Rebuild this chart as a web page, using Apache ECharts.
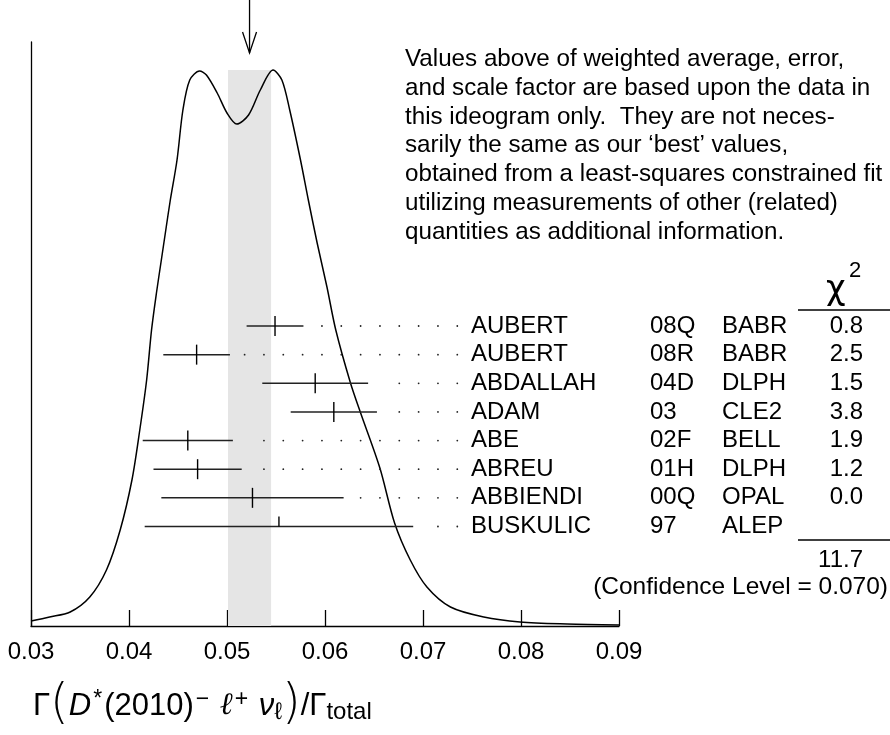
<!DOCTYPE html>
<html>
<head>
<meta charset="UTF-8">
<title>Gamma(D*(2010) l nu)/Gamma total ideogram</title>
<script src="https://cdn.jsdelivr.net/npm/echarts@6/dist/echarts.min.js"></script>
<style>
 html, body { margin: 0; padding: 0; background: #fff; }
 #main { width: 890px; height: 735px; }
</style>
</head>
<body>
<div id="main"></div>
<script>
// measurements, top row first
var names = ['AUBERT', 'AUBERT', 'ABDALLAH', 'ADAM', 'ABE', 'ABREU', 'ABBIENDI', 'BUSKULIC'];
var refs = ['08Q', '08R', '04D', '03', '02F', '01H', '00Q', '97'];
var experiments = ['BABR', 'BABR', 'DLPH', 'CLE2', 'BELL', 'DLPH', 'OPAL', 'ALEP'];
var values = [0.0549, 0.0469, 0.0590, 0.0609, 0.0460, 0.0470, 0.0526, 0.0553];
var errors = [0.0029, 0.0034, 0.0054, 0.0044, 0.0046, 0.0045, 0.0093, 0.0137];
var chi2 = ['0.8', '2.5', '1.5', '3.8', '1.9', '1.2', '0.0', ''];
var chi2Total = '11.7';
var confLevel = '0.070';

// weighted average and its error (grey band + arrow)
var average = 0.0523;
var averageError = 0.0022;
var bandHeight = 556;

// ideogram curve
var curveX = [0.0300, 0.0319, 0.0340, 0.0360, 0.0377, 0.0391, 0.0403, 0.0411, 0.0418, 0.0423,
  0.0428, 0.0433, 0.0438, 0.0442, 0.0449, 0.0455, 0.0462, 0.0472, 0.0479, 0.0490,
  0.0500, 0.0510, 0.0522, 0.0534, 0.0547, 0.0556, 0.0564, 0.0575, 0.0583, 0.0592,
  0.0602, 0.0611, 0.0626, 0.0636, 0.0656, 0.0671, 0.0687, 0.0704, 0.0728, 0.0762,
  0.0799, 0.0847, 0.0900];
var curveY = [5, 9, 14, 29, 56, 96, 146, 196, 246, 296,
  333, 366, 399, 425, 466, 516, 546, 555, 551, 533,
  513, 502, 511, 536, 556, 546, 516, 466, 426, 383,
  339, 296, 243, 214, 158, 103, 66, 39, 19, 9,
  4, 2, 1];

var xMin = 0.03, xMax = 0.09, xStep = 0.01;

var textBlock = [
  'Values above of weighted average, error,',
  'and scale factor are based upon the data in',
  'this ideogram only.  They are not neces-',
  'sarily the same as our \u2018best\u2019 values,',
  'obtained from a least-squares constrained fit',
  'utilizing measurements of other (related)',
  'quantities as additional information.'
];

var FONT = '"Liberation Sans", Arial, Helvetica, sans-serif';
var dotStep = 0.001973, dotEnd = 0.0735, dotGap = 0.0014;

var chart = echarts.init(document.getElementById('main'));

var curveData = curveX.map(function (x, i) { return [x, curveY[i]]; });
var rowData = values.map(function (v, i) { return [v, errors[i], i]; });

function renderRow(params, api) {
  var v = api.value(0), e = api.value(1), r = api.value(2);
  var lo = api.coord([v - e, r]);
  var hi = api.coord([v + e, r]);
  var c = api.coord([v, r]);
  var y = c[1];
  var kids = [
    { type: 'line', shape: { x1: lo[0], y1: y, x2: hi[0], y2: y }, style: { stroke: '#222', lineWidth: 1.5 } },
    { type: 'line', shape: { x1: c[0], y1: y - 10, x2: c[0], y2: chi2[r] === '' ? y : y + 10 }, style: { stroke: '#000', lineWidth: 1.4 } }
  ];
  for (var k = 0; k < 40; k++) {
    var d = dotEnd - k * dotStep;
    if (d <= v + e + dotGap) break;
    var p = api.coord([d, r]);
    kids.push({ type: 'circle', shape: { cx: p[0], cy: y, r: 0.9 }, style: { fill: '#222' } });
  }
  var ts = { font: '24px ' + FONT, fill: '#000', verticalAlign: 'middle', align: 'left' };
  kids.push({ type: 'text', x: 471, y: y, style: Object.assign({ text: names[r] }, ts) });
  kids.push({ type: 'text', x: 650, y: y, style: Object.assign({ text: refs[r] }, ts) });
  kids.push({ type: 'text', x: 722, y: y, style: Object.assign({ text: experiments[r] }, ts) });
  kids.push({ type: 'text', x: 863, y: y, style: Object.assign({ text: chi2[r] }, ts, { align: 'right' }) });
  return { type: 'group', children: kids };
}

function renderArrow(params, api) {
  var x = api.coord([api.value(0), 0])[0];
  return {
    type: 'group',
    children: [
      { type: 'line', shape: { x1: x, y1: 0, x2: x, y2: 53 }, style: { stroke: '#000', lineWidth: 1.3 } },
      { type: 'polyline', shape: { points: [[x - 7, 32], [x, 53], [x + 7, 32]] }, style: { stroke: '#000', lineWidth: 1.3, fill: null } }
    ]
  };
}

var option = {
  animation: false,
  grid: { left: 31, right: 271, top: 42, bottom: 109 },
  xAxis: {
    type: 'value', min: xMin, max: xMax, interval: xStep,
    axisLine: { lineStyle: { color: '#000', width: 1.3 } },
    axisTick: { inside: true, length: 16, lineStyle: { color: '#000', width: 1.3 } },
    splitLine: { show: false },
    axisLabel: {
      color: '#000', fontSize: 24, fontFamily: FONT, margin: 14,
      formatter: function (v) { return v.toFixed(2); }
    }
  },
  yAxis: [
    {
      type: 'value', min: 0, max: 584,
      axisLine: { show: true, lineStyle: { color: '#000', width: 1.3 } },
      axisTick: { show: false }, axisLabel: { show: false }, splitLine: { show: false }
    },
    {
      type: 'value', min: -9.916, max: 10.475, inverse: true, show: false
    }
  ],
  series: [
    {
      type: 'line', z: 1, data: [], silent: true,
      markArea: {
        silent: true,
        itemStyle: { color: '#e5e5e5' },
        data: [[{ xAxis: average - averageError, yAxis: 0 }, { xAxis: average + averageError, yAxis: bandHeight }]]
      }
    },
    {
      type: 'line', z: 3, data: curveData, smooth: 0.3, showSymbol: false, silent: true,
      lineStyle: { color: '#000', width: 1.5 }
    },
    {
      type: 'custom', z: 4, xAxisIndex: 0, yAxisIndex: 1, silent: true,
      data: rowData, renderItem: renderRow
    },
    {
      type: 'custom', z: 4, silent: true,
      data: [[average]], renderItem: renderArrow
    }
  ],
  graphic: [
    {
      type: 'text', left: 405, top: 45,
      style: { text: textBlock.join('\n'), font: '24.2px ' + FONT, lineHeight: 28.8, fill: '#000' }
    },
    {
      type: 'text', x: 826, y: 290,
      style: { text: '\u03c7', font: '34px "DejaVu Sans", sans-serif', fill: '#000', verticalAlign: 'middle' }
    },
    {
      type: 'text', x: 849, y: 271,
      style: { text: '2', font: '22px ' + FONT, fill: '#000', verticalAlign: 'middle' }
    },
    { type: 'line', shape: { x1: 798, y1: 310, x2: 890, y2: 310 }, style: { stroke: '#000', lineWidth: 1.3 } },
    { type: 'line', shape: { x1: 798, y1: 540, x2: 890, y2: 540 }, style: { stroke: '#000', lineWidth: 1.3 } },
    {
      type: 'text', x: 863, y: 560,
      style: { text: chi2Total, font: '24px ' + FONT, fill: '#000', align: 'right', verticalAlign: 'middle' }
    },
    {
      type: 'text', x: 888, y: 587,
      style: { text: '(Confidence Level = ' + confLevel + ')', font: '24.5px ' + FONT, fill: '#000', align: 'right', verticalAlign: 'middle' }
    },
    {
      type: 'text', x: 33, y: 706,
      style: {
        text: '{n|\u0393}{p|(}{i|D}{sup|*}{n|(2010)}{sup|\u2212}{n| }{l|\u2113}{sup|+}{n| }{i|\u03bd}{sub|\u2113}{p|)}{n|/\u0393}{sub|total}',
        verticalAlign: 'middle', fill: '#000',
        rich: {
          n: { fontSize: 31, fontFamily: FONT },
          p: { fontSize: 48, fontFamily: '"DejaVu Sans ExtraLight", "DejaVu Sans", sans-serif', fontWeight: 200 },
          i: { fontSize: 31, fontFamily: FONT, fontStyle: 'italic' },
          l: { fontSize: 31, fontFamily: '"Liberation Serif", serif', fontStyle: 'italic' },
          sup: { fontSize: 23, fontFamily: FONT, padding: [0, 2, 12, 2] },
          sub: { fontSize: 24, fontFamily: FONT, padding: [13, 0, 0, 0] }
        }
      }
    }
  ]
};

chart.setOption(option);
</script>
</body>
</html>
